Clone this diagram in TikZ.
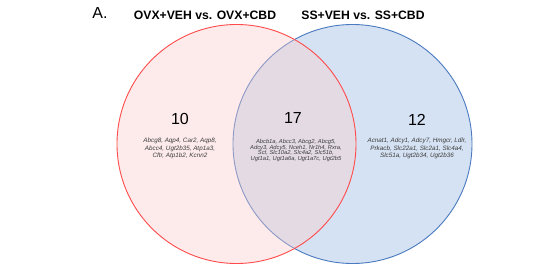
\documentclass[tikz,border=0pt]{standalone}
\usepackage{fontspec}
\setmainfont{Liberation Sans}
\definecolor{redline}{RGB}{255,75,75}
\definecolor{redfill}{RGB}{252,205,205}
\definecolor{blueline}{RGB}{74,122,192}
\definecolor{bluefill}{RGB}{213,226,243}
\definecolor{genegray}{RGB}{60,60,60}
\begin{document}
\begin{tikzpicture}[x=1pt,y=1pt,
  setcircle/.style={circle,minimum size=239pt,inner sep=0pt,line width=0.9pt},
  titletext/.style={font=\fontsize{12.2}{14}\selectfont\bfseries,inner sep=0pt},
  numtext/.style={font=\fontsize{16}{18}\selectfont,inner sep=0pt},
  genetext/.style={font=\fontsize{6.3}{7.4}\selectfont\itshape,text=genegray,align=center,inner sep=0pt},
  midgene/.style={font=\fontsize{5.8}{5.8}\selectfont\itshape,text=genegray,align=center,inner sep=0pt}]
\useasboundingbox (0,0) rectangle (550,277);
\fill[white] (0,0) rectangle (550,277);
% circles
\node[setcircle,draw=blueline,fill=bluefill] (blue) at (352.5,133) {};
\node[setcircle,fill=redfill,fill opacity=0.38] (redf) at (236.5,133) {};
\node[setcircle,draw=redline] (red) at (236.5,133) {};
% titles
\node[font=\fontsize{16}{18}\selectfont,inner sep=0pt] (lab) at (100,264) {A.};
\node[titletext] (t1) at (205,262) {OVX+VEH vs. OVX+CBD};
\node[titletext] (t2) at (363,262) {SS+VEH vs. SS+CBD};
% numbers
\node[numtext] (n10) at (180,158) {10};
\node[numtext] (n17) at (293,159) {17};
\node[numtext] (n12) at (417,157) {12};
% gene lists
\node[genetext] (g10) at (180,128.5) {Abcg8, Aqp4, Car2, Aqp8,\\Abcc4, Ugt2b35, Atp1a3,\\Cftr, Atp1b2, Kcnn2};
\node[midgene] (g17) at (296,126.5) {Abcb1a, Abcc3, Abcg2, Abcg5,\\Adcy3, Adcy5, Nceh1, Nr1h4, Rxra,\\Sct, Slc10a2, Slc4a2, Slc51b,\\Ugt1a1, Ugt1a6a, Ugt1a7c, Ugt2b5};
\node[genetext] (g12) at (417,128.5) {Acnat1, Adcy1, Adcy7, Hmgcr, Ldlr,\\Prkacb, Slc22a1, Slc2a1, Slc4a4,\\Slc51a, Ugt2b34, Ugt2b36};
\end{tikzpicture}
\end{document}
